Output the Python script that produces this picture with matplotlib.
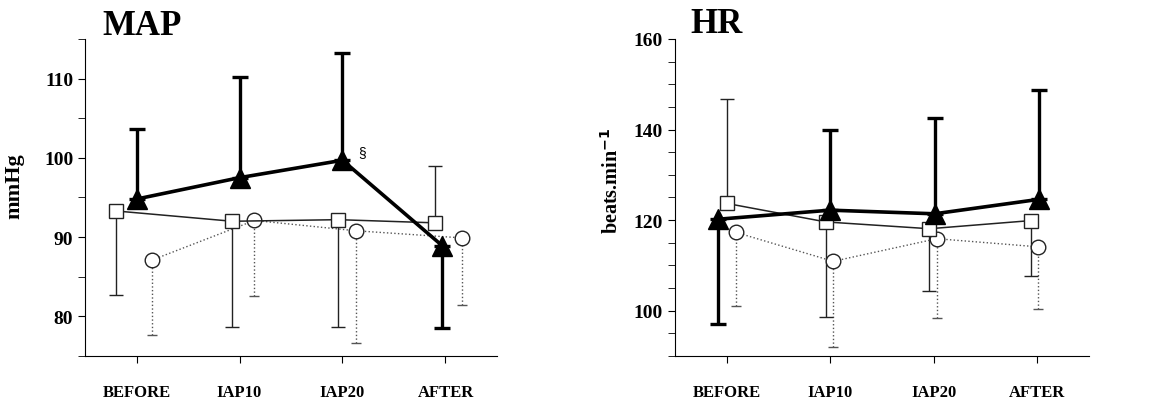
import numpy as np
import matplotlib
matplotlib.use('Agg')
import matplotlib.pyplot as plt
from matplotlib.ticker import MultipleLocator

plt.rcParams['font.family'] = ['Liberation Serif', 'DejaVu Serif']
plt.rcParams['font.weight'] = 'bold'

phases = ['BEFORE', 'IAP10', 'IAP20', 'AFTER']

# MAP (mmHg): mean values and the end of the (one-sided) error bar
map_tri = [94.8, 97.5, 99.7, 88.9]
map_tri_end = [103.7, 110.25, 113.2, 78.5]
map_sq = [93.3, 92.0, 92.2, 91.8]
map_sq_end = [82.7, 78.7, 78.7, 99.0]
map_circ = [87.1, 92.1, 90.8, 89.9]
map_circ_end = [77.6, 82.6, 76.7, 81.4]

# HR (beats/min)
hr_tri = [120.2, 122.2, 121.4, 124.6]
hr_tri_end = [97.1, 139.9, 142.6, 148.7]
hr_sq = [123.7, 119.6, 118.1, 119.9]
hr_sq_end = [146.7, 98.7, 104.4, 107.7]
hr_circ = [117.3, 110.9, 115.9, 114.1]
hr_circ_end = [101.0, 91.9, 98.4, 100.4]

# horizontal shifts of each series around the phase tick (layout only)
map_shift = {'tri': [0, 0, 0, -0.03], 'sq': [-0.2, -0.07, -0.04, -0.1],
             'circ': [0.15, 0.145, 0.13, 0.16]}
hr_shift = {'tri': [-0.08, 0, 0.01, 0.02], 'sq': [0, -0.04, -0.04, -0.06],
            'circ': [0.09, 0.03, 0.03, 0.01]}


def one_sided(mean, end):
    mean = np.array(mean)
    end = np.array(end)
    lower = np.where(end < mean, mean - end, 0)
    upper = np.where(end > mean, end - mean, 0)
    return [lower, upper]


def draw_panel(ax, tri, tri_end, sq, sq_end, circ, circ_end, shift):
    x = np.arange(len(phases))
    # circles: thin dotted grey
    xc = x + np.array(shift['circ'])
    eb = ax.errorbar(xc, circ, yerr=one_sided(circ, circ_end), fmt='none',
                     ecolor='#555555', elinewidth=1, capsize=3.5, capthick=1,
                     zorder=1)
    eb[2][0].set_linestyle(':')
    ax.plot(xc, circ, color='#555555', lw=1, ls=':', marker='o', ms=10.5,
            mfc='white', mec='#222222', mew=1, zorder=3)
    # squares: thin solid
    xs = x + np.array(shift['sq'])
    ax.errorbar(xs, sq, yerr=one_sided(sq, sq_end), fmt='none',
                ecolor='#222222', elinewidth=1, capsize=5, capthick=1, zorder=1)
    ax.plot(xs, sq, color='#222222', lw=1.1, marker='s', ms=10,
            mfc='white', mec='#222222', mew=1, zorder=4)
    # triangles: thick black
    xt = x + np.array(shift['tri'])
    ax.errorbar(xt, tri, yerr=one_sided(tri, tri_end), fmt='none',
                ecolor='black', elinewidth=2.4, capsize=6, capthick=2.4,
                zorder=2)
    ax.plot(xt, tri, color='black', lw=2.6, marker='^', ms=14,
            mfc='black', mec='black', zorder=5)

    ax.set_xlim(-0.5, 3.5)
    ax.set_xticks(x)
    ax.set_xticklabels(phases, fontsize=12, fontweight='bold')
    ax.spines['top'].set_visible(False)
    ax.spines['right'].set_visible(False)
    ax.tick_params(axis='x', length=5, pad=15)
    ax.tick_params(axis='y', which='both', length=5, labelsize=14)
    ax.yaxis.set_minor_locator(MultipleLocator(5))


fig = plt.figure(figsize=(11.52, 4.02), dpi=100)
ax1 = fig.add_axes([0.0738, 0.112, 0.3576, 0.7885])
ax2 = fig.add_axes([0.5857, 0.112, 0.3596, 0.7885])

draw_panel(ax1, map_tri, map_tri_end, map_sq, map_sq_end, map_circ,
           map_circ_end, map_shift)
ax1.set_ylim(75, 115)
ax1.set_yticks([80, 90, 100, 110])
ax1.set_ylabel('mmHg', fontsize=16, fontweight='bold')
ax1.yaxis.set_label_coords(-0.146, 0.54)
ax1.text(2.19, 100.7, '§', fontsize=10, family='Liberation Sans',
         fontweight='normal', ha='center', va='center')
fig.text(0.089, 0.935, 'MAP', fontsize=25, fontweight='bold', va='center')

draw_panel(ax2, hr_tri, hr_tri_end, hr_sq, hr_sq_end, hr_circ,
           hr_circ_end, hr_shift)
ax2.set_ylim(90, 160)
ax2.set_yticks([100, 120, 140, 160])
ax2.set_ylabel('beats.min$^{\\mathbf{-1}}$', fontsize=14.5, fontweight='bold')
ax2.yaxis.set_label_coords(-0.125, 0.554)
fig.text(0.5995, 0.94, 'HR', fontsize=25, fontweight='bold', va='center')

for ax in (ax1, ax2):
    for lab in ax.get_yticklabels():
        lab.set_fontweight('bold')

fig.savefig('out.png', dpi=100)
